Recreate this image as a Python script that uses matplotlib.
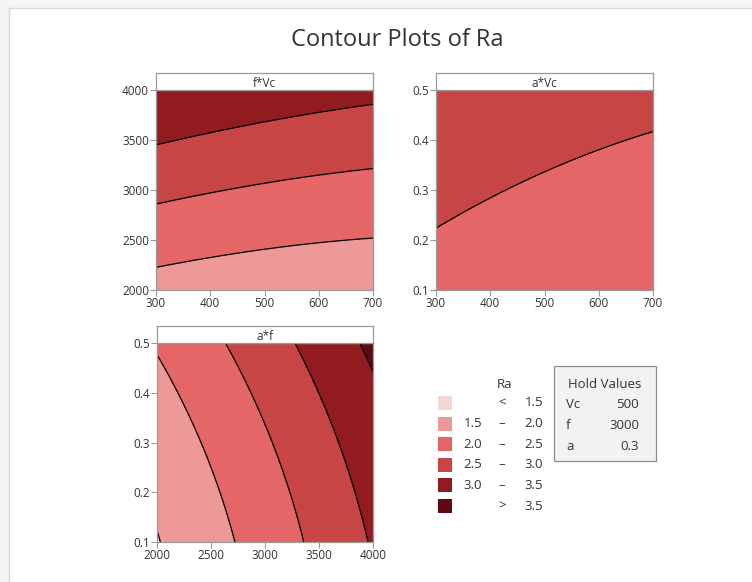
import matplotlib
matplotlib.use("Agg")
import matplotlib.pyplot as plt
import numpy as np
from matplotlib.patches import Rectangle

plt.rcParams["font.family"] = ["Open Sans", "DejaVu Sans"]

# factor ranges and hold settings
FACTORS = ["Vc", "f", "a"]
LOW = [300, 2000, 0.1]
HIGH = [700, 4000, 0.5]
HOLD = [500, 3000, 0.3]
HOLD_TXT = ["500", "3000", "0.3"]
TICKS = [
    [300, 400, 500, 600, 700],
    [2000, 2500, 3000, 3500, 4000],
    [0.1, 0.2, 0.3, 0.4, 0.5],
]

# quadratic model for Ra in coded units
# order: const, Vc, f, a, Vc^2, f^2, a^2, Vc*f, Vc*a, f*a
COEF = [2.447, -0.1375, 0.781, 0.283, 0.0315, 0.045, 0.05, -0.05, -0.04, 0.0]

LEVELS = [1.5, 2.0, 2.5, 3.0, 3.5]
COLORS = ["#f2d7d3", "#ec9997", "#e46667", "#c84545", "#911b1f", "#5d0b13"]
LEG_LO = ["", "1.5", "2.0", "2.5", "3.0", ""]
LEG_MID = ["<", "–", "–", "–", "–", ">"]
LEG_HI = ["1.5", "2.0", "2.5", "3.0", "3.5", "3.5"]

# (x factor, y factor, strip label, axes rect in pixels: left, top, right, bottom)
PANELS = [
    (0, 1, "f*Vc", (156, 90, 373, 290)),
    (0, 2, "a*Vc", (436, 90, 653, 290)),
    (1, 2, "a*f", (157, 343, 373, 542)),
]

W, H = 752, 582
TXT = "#333333"


def coded(v, i):
    mid = (LOW[i] + HIGH[i]) / 2
    half = (HIGH[i] - LOW[i]) / 2
    return (v - mid) / half


def ra(x):
    x1, x2, x3 = (coded(x[i], i) for i in range(3))
    terms = [np.ones_like(x1), x1, x2, x3, x1**2, x2**2, x3**2, x1 * x2, x1 * x3, x2 * x3]
    return sum(c * t for c, t in zip(COEF, terms))


def px_rect(l, t, r, b):
    return [l / W, 1 - b / H, (r - l) / W, (b - t) / H]


fig = plt.figure(figsize=(W / 100, H / 100), dpi=100)
fig.patch.set_facecolor("white")

# light outer frame
bg = fig.add_axes([0, 0, 1, 1], zorder=-10)
bg.set_xlim(0, W); bg.set_ylim(H, 0); bg.axis("off")
bg.add_patch(Rectangle((0, 0), W, 8, color="#f4f4f4", lw=0))
bg.add_patch(Rectangle((0, 0), 9, H, color="#f4f4f4", lw=0))
bg.plot([9, W], [8, 8], color="#d9d9d9", lw=1)
bg.plot([9, 9], [8, H], color="#d9d9d9", lw=1)

fig.text(397 / W, 1 - 40 / H, "Contour Plots of Ra", ha="center", va="center",
         fontsize=17, color=TXT)

fill_levels = [-100] + LEVELS + [100]
edge = "#9a9a9a"

for xi, yi, label, rect in PANELS:
    ax = fig.add_axes(px_rect(*rect))
    gx = np.linspace(LOW[xi], HIGH[xi], 300)
    gy = np.linspace(LOW[yi], HIGH[yi], 300)
    X, Y = np.meshgrid(gx, gy)
    vals = [np.full_like(X, HOLD[k]) for k in range(3)]
    vals[xi] = X
    vals[yi] = Y
    Z = ra(vals)
    ax.contourf(X, Y, Z, levels=fill_levels, colors=COLORS)
    ax.contour(X, Y, Z, levels=LEVELS, colors="black", linewidths=0.9)
    ax.set_xlim(LOW[xi], HIGH[xi]); ax.set_ylim(LOW[yi], HIGH[yi])
    ax.set_xticks(TICKS[xi]); ax.set_yticks(TICKS[yi])
    ax.set_xticklabels([str(t) for t in TICKS[xi]])
    ax.set_yticklabels([str(t) for t in TICKS[yi]])
    ax.tick_params(labelsize=8.5, colors=TXT, length=4, width=0.8, pad=1)
    ax.tick_params(color=edge)
    for s in ax.spines.values():
        s.set_color(edge); s.set_linewidth(0.9)

    # strip label box above the panel
    l, t, r, b = rect
    st = fig.add_axes(px_rect(l, t - 17, r, t))
    st.set_xticks([]); st.set_yticks([])
    for s in st.spines.values():
        s.set_color(edge); s.set_linewidth(0.9)
    st.text(0.5, 0.38, label, ha="center", va="center", fontsize=8.5,
            color=TXT, transform=st.transAxes)

# legend of Ra bands
lg = fig.add_axes([0, 0, 1, 1], zorder=5)
lg.set_xlim(0, W); lg.set_ylim(H, 0); lg.axis("off")
fs = 9.5
lg.text(505, 384, "Ra", ha="center", va="center", fontsize=fs, color=TXT)
for k, c in enumerate(COLORS):
    yc = 403 + k * 20.6
    lg.add_patch(Rectangle((438, yc - 7), 14, 14, facecolor=c, edgecolor="none"))
    lg.text(482, yc, LEG_LO[k], ha="right", va="center", fontsize=fs, color=TXT)
    lg.text(502, yc, LEG_MID[k], ha="center", va="center", fontsize=fs, color=TXT)
    lg.text(543, yc, LEG_HI[k], ha="right", va="center", fontsize=fs, color=TXT)

# hold values box
lg.add_patch(Rectangle((554, 366), 102, 95, facecolor="#f2f2f2", edgecolor="#8c8c8c", lw=0.9))
lg.text(605, 384, "Hold Values", ha="center", va="center", fontsize=fs, color=TXT)
for k, name in enumerate(FACTORS):
    yc = 404 + k * 21.3
    lg.text(566, yc, name, ha="left", va="center", fontsize=fs, color=TXT)
    lg.text(639, yc, HOLD_TXT[k], ha="right", va="center", fontsize=fs, color=TXT)

fig.savefig("out.png", dpi=100)
